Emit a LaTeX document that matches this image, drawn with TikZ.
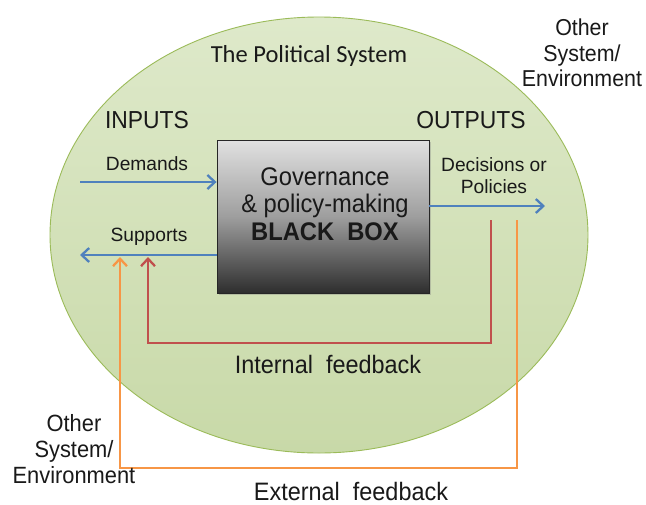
\documentclass[tikz,border=0pt]{standalone}
\usepackage{fontspec}
\setmainfont{Liberation Sans}
\newfontfamily\condsans[FakeStretch=0.93]{Liberation Sans}
\newfontfamily\calib{Carlito}
\usetikzlibrary{arrows.meta,shadows}
\definecolor{ellfillA}{RGB}{222,233,202}
\definecolor{ellfillB}{RGB}{200,217,168}
\definecolor{ellline}{RGB}{155,187,89}
\definecolor{bluearr}{RGB}{79,129,189}
\definecolor{redarr}{RGB}{192,80,77}
\definecolor{orangearr}{RGB}{247,150,70}
\definecolor{txt}{RGB}{25,25,25}
\tikzset{
  lbl/.style={inner sep=0pt, text=txt, align=center},
  big/.style={lbl, font=\condsans\fontsize{24.6}{27}\selectfont},
  env/.style={lbl, font=\condsans\fontsize{23}{25.5}\selectfont},
  small/.style={lbl, font=\fontsize{19.2}{22}\selectfont},
  flow/.style={line width=2.6pt, -{Straight Barb[length=7.5pt,width=14pt,line width=2.3pt]}},
  bluearrow/.style={flow, draw=bluearr},
  redarrow/.style={flow, draw=redarr, line width=2.3pt},
  orangearrow/.style={flow, draw=orangearr, line width=2.3pt},
  blackbox/.style={draw=black!85, line width=0.9pt, minimum width=212pt, minimum height=153pt,
     top color=black!12, bottom color=black!82, middle color=black!38,
     drop shadow={shadow xshift=2pt, shadow yshift=-2pt, opacity=0.35}, inner sep=0pt}
}
\begin{document}
\begin{tikzpicture}[x=1pt,y=-1pt]
\useasboundingbox (0,0) rectangle (646,504);
\fill[white] (0,0) rectangle (646,504);
% political system ellipse
\shade[top color=ellfillA, bottom color=ellfillB, draw=ellline, line width=0.9pt]
  (319,235) ellipse [x radius=269, y radius=218];
\node[lbl, font=\calib\fontsize{24.5}{28}\selectfont] (title) at (309,56) {The Political System};
\node[env] (otherTR) at (582,53) {Other\\System/\\Environment};
\node[big] (inputs) at (147,120) {INPUTS};
\node[big] (outputs) at (471,120) {OUTPUTS};
\node[small] (demands) at (147,164) {Demands};
\node[small] (supports) at (149,237) {Supports};
\node[small] (decisions) at (494,176) {Decisions or\\Policies};
% black box
\node[blackbox] (bb) at (323,216.5) {};
\node[lbl, font=\condsans\fontsize{25.5}{27.5}\selectfont] (bbtext) at (325,204)
  {Governance\\\& policy-making\\\textbf{BLACK\ \ BOX}};
% input / output arrows
\coordinate (dstart) at (80,182);
\coordinate (send) at (80,255);
\coordinate (dend) at (545,206);
\draw[bluearrow] (dstart) -- (bb.west |- dstart);
\draw[bluearrow] (bb.west |- send) -- (send);
\draw[bluearrow] (bb.east |- dend) -- (dend);
% internal feedback
\coordinate (rtop) at (491,220);
\coordinate (rend) at (148,257);
\draw[redarrow] (rtop) -- (491,343) -| (rend);
\node[big, font=\condsans\fontsize{25.2}{27}\selectfont] (intfb) at (328,364) {Internal\ \ feedback};
% external feedback
\coordinate (otop) at (517,220);
\coordinate (oend) at (120,257);
\draw[orangearrow] (otop) -- (517,468) -| (oend);
\node[big, font=\condsans\fontsize{25.2}{27}\selectfont] (extfb) at (351,491) {External\ \ feedback};
\node[env, font=\condsans\fontsize{23.5}{26}\selectfont] (otherBL) at (74,449) {Other\\System/\\Environment};
\end{tikzpicture}
\end{document}
